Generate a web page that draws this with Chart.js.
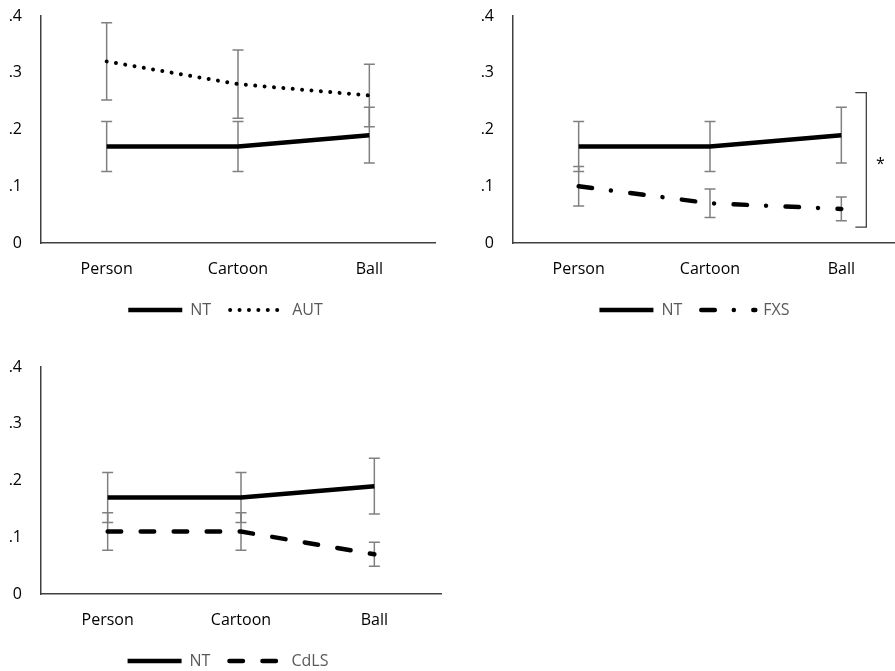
<!DOCTYPE html>
<html>
<head>
<meta charset="utf-8">
<script src="https://cdn.jsdelivr.net/npm/chart.js@4.4.1/dist/chart.umd.min.js"></script>
<style>
  html, body { margin: 0; padding: 0; background: #fff; overflow: hidden; width: 895px; height: 671px; position: relative; }
  canvas { position: absolute; }
</style>
</head>
<body>
<canvas id="c1" width="450" height="340" style="left:0;top:0"></canvas>
<canvas id="c2" width="450" height="340" style="left:472px;top:0"></canvas>
<canvas id="c3" width="460" height="330" style="left:0;top:350px"></canvas>
<script>
// values (proportions, with error bar half-lengths)
const categories = ['Person', 'Cartoon', 'Ball'];
const yTickLabels = ['0', '.1', '.2', '.3', '.4'];

const ntMean = [0.17, 0.17, 0.19];
const ntErr = [0.044, 0.044, 0.049];
const autMean = [0.32, 0.28, 0.26];
const autErr = [0.068, 0.06, 0.055];
const fxsMean = [0.10, 0.07, 0.06];
const fxsErr = [0.035, 0.025, 0.021];
const cdlsMean = [0.11, 0.11, 0.07];
const cdlsErr = [0.033, 0.033, 0.021];

Chart.defaults.font.family = "'Open Sans', sans-serif";

const errorBars = {
  id: 'errorBars',
  beforeDatasetsDraw(chart) {
    const { ctx, scales: { x, y } } = chart;
    ctx.save();
    ctx.strokeStyle = '#808080';
    ctx.lineWidth = 1.5;
    chart.data.datasets.forEach(ds => {
      ds.data.forEach((v, i) => {
        const px = x.getPixelForValue(i);
        const top = y.getPixelForValue(v + ds.errors[i]);
        const bot = y.getPixelForValue(v - ds.errors[i]);
        ctx.beginPath();
        ctx.moveTo(px, top); ctx.lineTo(px, bot);
        ctx.moveTo(px - 5.5, top); ctx.lineTo(px + 5.5, top);
        ctx.moveTo(px - 5.5, bot); ctx.lineTo(px + 5.5, bot);
        ctx.stroke();
      });
    });
    ctx.restore();
  }
};

// significance bracket next to Ball in the FXS panel
const bracket = {
  id: 'bracket',
  afterDraw(chart) {
    const { ctx, scales: { x, y } } = chart;
    const bx = x.getPixelForValue(2);
    const top = y.getPixelForValue(0.265);
    const bot = y.getPixelForValue(0.028);
    ctx.save();
    ctx.strokeStyle = '#404040';
    ctx.lineWidth = 1.3;
    ctx.beginPath();
    ctx.moveTo(bx + 14, top); ctx.lineTo(bx + 25, top);
    ctx.lineTo(bx + 25, bot); ctx.lineTo(bx + 14, bot);
    ctx.stroke();
    ctx.fillStyle = '#000';
    ctx.font = "16px 'Open Sans', sans-serif";
    ctx.textAlign = 'center';
    ctx.textBaseline = 'middle';
    ctx.fillText('*', bx + 39, (top + bot) / 2 + 5);
    ctx.restore();
  }
};

const ntLine = () => ({
  label: 'NT', data: ntMean, errors: ntErr,
  borderColor: '#000', borderWidth: 4.5, pointRadius: 0, tension: 0
});

function makeChart(id, other, pad, yWidth, plugins) {
  new Chart(document.getElementById(id), {
    type: 'line',
    data: { labels: categories, datasets: [ntLine(), other] },
    options: {
      responsive: false,
      animation: false,
      layout: { padding: pad },
      scales: {
        x: {
          offset: true,
          grid: { display: false, drawTicks: false },
          border: { color: '#404040', width: 1.5 },
          ticks: { color: '#000', font: { size: 16 }, padding: 17 },
          afterFit: s => { s.height = 40; }
        },
        y: {
          min: 0, max: 0.4,
          grid: { display: false, drawTicks: false },
          border: { color: '#404040', width: 1.5 },
          ticks: { stepSize: 0.1, color: '#000', font: { size: 16 }, padding: 19,
            callback: (v, i) => yTickLabels[i] },
          afterFit: s => {
            s.width = yWidth;
            // the layout padding already leaves room for the top label
            s.paddingTop = 0;
            s.paddingBottom = 0;
            s._computeLabelArea = () => undefined;
          }
        }
      },
      plugins: {
        tooltip: { enabled: false },
        legend: {
          position: 'bottom',
          labels: {
            usePointStyle: true, pointStyleWidth: 54, boxHeight: 10, padding: 19,
            font: { size: 16 }, color: '#595959',
            generateLabels: chart => chart.data.datasets.map((ds, i) => ({
              text: ds.label, datasetIndex: i, hidden: false,
              pointStyle: 'line', lineWidth: ds.borderWidth,
              strokeStyle: ds.borderColor, fillStyle: ds.borderColor,
              lineDash: ds.borderDash || [], lineCap: ds.borderCapStyle || 'butt',
              fontColor: '#595959'
            }))
          }
        }
      }
    },
    plugins: [errorBars].concat(plugins || [])
  });
}

makeChart('c1', {
  label: 'AUT', data: autMean, errors: autErr,
  borderColor: '#000', borderWidth: 4, borderDash: [0.01, 9.4], borderCapStyle: 'round',
  pointRadius: 0, tension: 0
}, { left: 16, right: 15, top: 16, bottom: 12 }, 25);

makeChart('c2', {
  label: 'FXS', data: fxsMean, errors: fxsErr,
  borderColor: '#000', borderWidth: 4.5, borderDash: [13.5, 19, 0.01, 19.5], borderCapStyle: 'round',
  pointRadius: 0, tension: 0
}, { left: 10, right: 15, top: 16, bottom: 12 }, 31, [bracket]);

makeChart('c3', {
  label: 'CdLS', data: cdlsMean, errors: cdlsErr,
  borderColor: '#000', borderWidth: 4.5, borderDash: [13.5, 19.5], borderCapStyle: 'round',
  pointRadius: 0, tension: 0
}, { left: 15, right: 19, top: 17, bottom: 1 }, 26);
</script>
</body>
</html>
